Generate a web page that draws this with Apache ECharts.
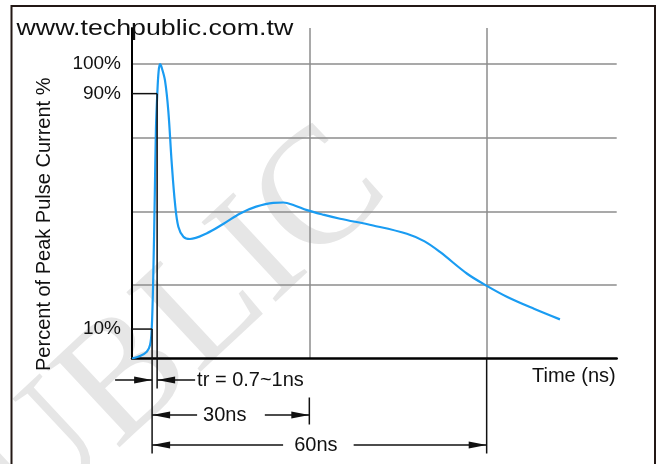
<!DOCTYPE html>
<html>
<head>
<meta charset="utf-8">
<script src="https://cdn.jsdelivr.net/npm/echarts@6/dist/echarts.min.js"></script>
<style>
html,body{margin:0;padding:0;background:#fff;}
#c{width:656px;height:464px;}
</style>
</head>
<body>
<div id="c"></div>
<script>
// ---- data ----
const timeNs = [0, 1.35, 2.5, 3.05, 3.33, 3.6, 3.85, 4.05, 4.28, 4.5, 4.74, 5.0, 5.58, 6.15, 6.7, 7.28, 7.84, 8.7, 9.8, 12.6, 15.5, 18.3, 21, 23.9, 25.6, 27.5, 29.6, 32.5, 35.2, 40.8, 46.5, 49.5, 52.1, 56.7, 60.1, 63.5, 68, 72.4];
const percentPeak = [0, 0.85, 2.3, 4.6, 9.7, 28, 55, 78, 90, 97.5, 100, 99, 94.5, 84, 67, 52.6, 44.8, 41.4, 40.6, 42.5, 45.8, 49.3, 51.6, 52.9, 53, 52, 50.4, 48.8, 47.5, 45.2, 42.4, 39.8, 36.2, 28.8, 24.6, 20.9, 16.9, 13.3];
const yTickLabels = [10, 90, 100];
const markLevels = [10, 90];
const markTimes = [3.4, 4.25];
const spanEnds = [30, 60];
const spanLabels = ['tr = 0.7~1ns', '30ns', '60ns'];
const siteText = 'www.techpublic.com.tw';
const watermarkText = 'PUBLIC';

const FONT = 'Liberation Sans';
const chart = echarts.init(document.getElementById('c'), null, {renderer: 'canvas'});

chart.setOption({
  animation: false,
  backgroundColor: '#fff',
  grid: {left: 132, right: 39.3, top: 28, bottom: 105.5, outerBoundsMode: 'none', containLabel: false},
  xAxis: {
    type: 'value', min: 0, max: 82, interval: 30,
    name: 'Time (ns)', nameLocation: 'end', nameGap: -1,
    nameTextStyle: {fontFamily: FONT, fontSize: 20, color: '#111', align: 'right', verticalAlign: 'top', padding: [8, 0, 0, 0]},
    axisLine: {show: true, lineStyle: {color: '#000', width: 2.5}},
    axisTick: {show: false}, axisLabel: {show: false},
    splitLine: {show: true, showMinLine: false, showMaxLine: false, lineStyle: {color: '#8c8c8c', width: 1.5}}
  },
  yAxis: [{
    type: 'value', min: 0, max: 112.3, interval: 10,
    name: 'Percent of Peak Pulse Current %', nameLocation: 'middle', nameGap: 78,
    nameTextStyle: {fontFamily: FONT, fontSize: 20, color: '#111', padding: [0, 62, 0, 0]},
    axisLine: {show: true, lineStyle: {color: '#000', width: 2}},
    axisTick: {show: false},
    axisLabel: {show: true, margin: 11, fontFamily: FONT, fontSize: 19, color: '#111',
      formatter: v => yTickLabels.indexOf(Math.round(v)) >= 0 && Math.abs(v - Math.round(v)) < 1e-6 ? Math.round(v) + '%' : ''},
    splitLine: {show: false}
  }, {
    type: 'value', min: 0, max: 112.3, interval: 25, position: 'left',
    axisLine: {show: false}, axisTick: {show: false}, axisLabel: {show: false},
    splitLine: {show: true, showMinLine: false, showMaxLine: false, lineStyle: {color: '#8c8c8c', width: 1.5}}
  }],
  series: [{
    type: 'line', xAxisIndex: 0, yAxisIndex: 0, z: 5,
    data: timeNs.map((t, i) => [t, percentPeak[i]]),
    smooth: 0.35, showSymbol: false,
    lineStyle: {color: '#1a9cf2', width: 2.2}
  }]
});

// ---- annotations positioned through the chart's scales ----
const conv = p => chart.convertToPixel({gridIndex: 0}, p);
const o = conv([0, 0]);
const ax = o[1];
const p10 = conv([markTimes[0], markLevels[0]]);
const p90 = conv([markTimes[1], markLevels[1]]);
const p30 = conv([spanEnds[0], 0]);
const p60 = conv([spanEnds[1], 0]);

const BLK = '#111';
function seg(x1, y1, x2, y2, w) {
  return {type: 'line', shape: {x1, y1, x2, y2}, style: {stroke: BLK, lineWidth: w || 1.5}, z: 10};
}
function arrow(tx, ty, dir) { // dir=+1 points right, -1 points left
  const L = 18, H = 3.6;
  return {type: 'polygon', shape: {points: [[tx, ty], [tx - dir * L, ty - H], [tx - dir * L, ty + H]]}, style: {fill: BLK}, z: 10};
}
function txt(x, y, s, align) {
  return {type: 'text', x, y, style: {text: s, fontFamily: FONT, fontSize: 20, fill: BLK, align: align || 'left', verticalAlign: 'middle'}, z: 10};
}
const r1 = ax + 21.5, r2 = ax + 56.5, r3 = ax + 86.5, bot = ax + 95;
const x10 = p10[0], x90 = p90[0], x30 = p30[0], x60 = p60[0];

const g = [
  // frame
  {type: 'polyline', shape: {points: [[11.5, 470], [11.5, 6], [655, 6], [655, 470]]}, style: {stroke: '#231815', lineWidth: 2, fill: null}, z: 1},
  // watermark
  {type: 'text', x: 147, y: 362, rotation: 43 * Math.PI / 180, z: -10,
    style: {text: watermarkText, fontFamily: 'Liberation Serif', fontSize: 166, fill: '#e6e6e6', align: 'center', verticalAlign: 'middle'}},
  // site text
  {type: 'text', x: 16.5, y: 28.5, scaleX: 1.19, z: 10, style: {text: siteText, fontFamily: FONT, fontSize: 22.5, fill: '#111', align: 'left', verticalAlign: 'middle'}},
  // level marks
  seg(o[0], p10[1], x10, p10[1]),
  seg(o[0], p90[1], x90, p90[1]),
  seg(x10, p10[1], x10, bot),
  seg(x90, p90[1], x90, ax + 30),
  seg(x60, ax, x60, bot, 1.5),
  seg(x30, ax + 39, x30, ax + 66),
  // tr row
  seg(x10 - 37, r1, x10, r1), arrow(x10, r1, 1),
  seg(x90, r1, x90 + 38, r1), arrow(x90, r1, -1),
  txt(x90 + 40, r1, spanLabels[0]),
  // 30ns row
  arrow(x10, r2, -1), seg(x10, r2, x10 + 45, r2),
  txt((x10 + x30) / 2 - 6, r2, spanLabels[1], 'center'),
  seg(x30 - 44.5, r2, x30, r2), arrow(x30, r2, 1),
  // 60ns row
  arrow(x10, r3, -1), seg(x10, r3, x10 + 131, r3),
  txt((x10 + x60) / 2 - 3.5, r3, spanLabels[2], 'center'),
  seg(x60 - 133, r3, x60, r3), arrow(x60, r3, 1)
];
chart.setOption({graphic: g});
</script>
</body>
</html>
